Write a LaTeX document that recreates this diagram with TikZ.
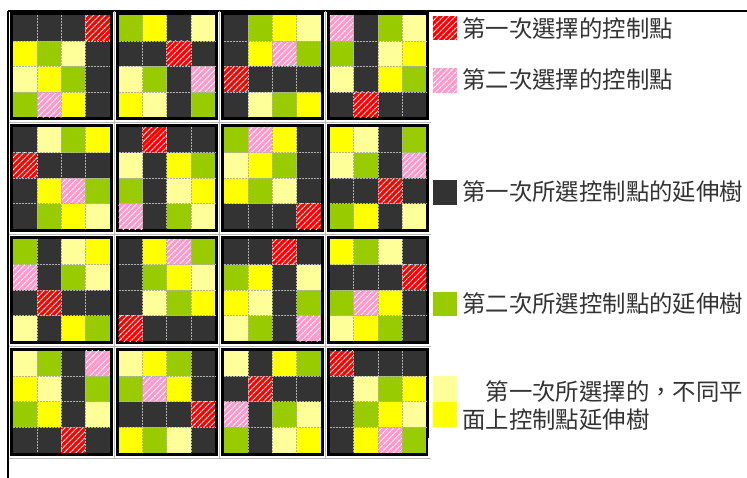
\documentclass[tikz,border=0pt]{standalone}
\usepackage{fontspec}
\newfontfamily\cjk{Noto Sans CJK TC}
\usetikzlibrary{patterns.meta}
\definecolor{cD}{HTML}{333333}
\definecolor{cG}{HTML}{99CC00}
\definecolor{cY}{HTML}{FFFF00}
\definecolor{cL}{HTML}{FFFF99}
\definecolor{cR}{HTML}{FF0000}
\definecolor{cP}{HTML}{FF99CC}
\tikzset{
  tD/.style={fill=cD},
  tG/.style={fill=cG},
  tY/.style={fill=cY},
  tL/.style={fill=cL},
  tR/.style={fill=cR, postaction={pattern={Lines[angle=45,distance=4pt,line width=1.1pt]}, pattern color=white}},
  tP/.style={fill=cP, postaction={pattern={Lines[angle=45,distance=4pt,line width=1.1pt]}, pattern color=white}},
  seam/.style={draw=gray!60, line width=0.9pt, dash pattern=on 2pt off 1pt},
  gap/.style={draw=gray!55, line width=0.6pt},
  frame/.style={draw=black, line width=2pt},
  lbl/.style={anchor=west, inner sep=0pt, font=\cjk\fontsize{23.4}{28}\selectfont, text=black!80}
}
\begin{document}
\begin{tikzpicture}[x=1pt,y=-1pt]
\useasboundingbox (0,0) rectangle (747,478);
\fill[white] (0,0) rectangle (747,478);
% outer frame lines
\draw[frame] (7.5,11) -- (747,11);
\draw[frame] (7.5,11) -- (7.5,478);
% table seams between panels
\foreach \gx in {114, 219.6, 325.2} \draw[gap] (\gx,11) -- (\gx,458);
\foreach \gy in {122.2, 234, 345.8} \draw[gap] (9,\gy) -- (431,\gy);
\draw[gap] (9,458) -- (431,458);
% panels
\foreach \r/\c/\data in {
 0/0/{D,D,D,R,Y,G,L,D,L,Y,G,D,G,P,Y,D},
 0/1/{G,Y,D,L,D,D,R,D,L,G,D,P,Y,L,D,G},
 0/2/{D,G,Y,L,D,Y,P,G,R,D,D,D,D,L,G,Y},
 0/3/{P,D,G,L,G,D,L,Y,L,D,Y,G,D,R,D,D},
 1/0/{D,L,G,Y,R,D,D,D,D,Y,P,G,D,G,Y,L},
 1/1/{D,R,D,D,L,D,Y,G,G,D,L,Y,P,D,G,L},
 1/2/{G,P,Y,D,L,Y,G,D,Y,G,L,D,D,D,D,R},
 1/3/{Y,L,D,G,L,G,D,P,D,D,R,D,G,Y,D,L},
 2/0/{G,D,L,Y,P,D,G,L,D,R,D,D,L,D,Y,G},
 2/1/{D,Y,P,G,D,G,Y,L,D,L,G,Y,R,D,D,D},
 2/2/{D,D,R,D,G,Y,D,L,Y,L,D,G,L,G,D,P},
 2/3/{Y,G,L,D,D,D,D,R,G,P,Y,D,L,Y,G,D},
 3/0/{L,G,D,P,Y,L,D,G,G,Y,D,L,D,D,R,D},
 3/1/{L,Y,G,D,G,P,Y,D,D,D,D,R,Y,G,L,D},
 3/2/{L,D,Y,G,D,R,D,D,P,D,G,L,G,D,L,Y},
 3/3/{R,D,D,D,D,L,G,Y,D,G,Y,L,D,Y,P,G}} {
  \pgfmathsetmacro\px{10+105.6*\c}
  \pgfmathsetmacro\py{12.5+111.8*\r}
  \fill[black] (\px,\py) rectangle ++(102.5,108);
  \foreach \t [count=\i from 0] in \data {
    \pgfmathtruncatemacro\rr{int(\i/4)}
    \pgfmathtruncatemacro\cc{mod(\i,4)}
    \path[t\t] ({\px+3+\cc*24.125},{\py+3+\rr*25.5}) rectangle ++(24.125,25.5);
  }
  \foreach \k in {1,2,3} {
    \draw[seam] ({\px+3+\k*24.125},{\py+3}) -- ++(0,102);
    \draw[seam] ({\px+3},{\py+3+\k*25.5}) -- ++(96.5,0);
  }
}
\fill[white] (428,438) rectangle (433,457);
% legend
\path[tR] (433,16) rectangle (457,40);
\node[lbl] (l1) at (462,29) {第一次選擇的控制點};
\path[tP] (433,68) rectangle (457,93);
\node[lbl] (l2) at (462,80) {第二次選擇的控制點};
\path[tD] (433,180) rectangle (457,205);
\node[lbl] (l3) at (462,192) {第一次所選控制點的延伸樹};
\path[tG] (433,292) rectangle (457,316);
\node[lbl] (l4) at (462,304) {第二次所選控制點的延伸樹};
\path[tL] (433,376) rectangle (457,402);
\path[tY] (433,402) rectangle (457,427);
\node[lbl] (l5) at (462,392) {　第一次所選擇的，不同平};
\node[lbl] (l6) at (462,420) {面上控制點延伸樹};
\end{tikzpicture}
\end{document}
